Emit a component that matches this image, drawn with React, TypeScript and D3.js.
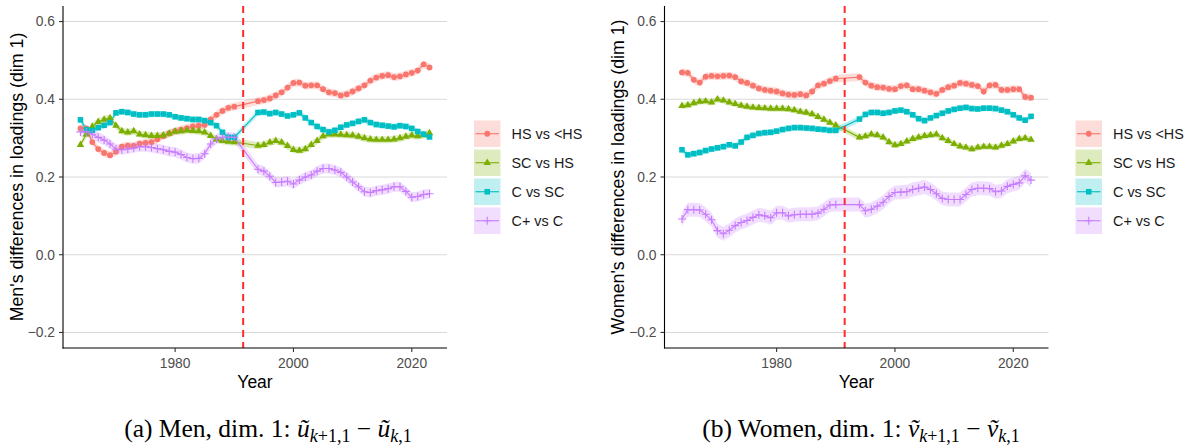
import React from "react";
import * as d3 from "d3";

// survey years (no points for 1991-1993)
const years = [...d3.range(1964, 1991), ...d3.range(1994, 2024)];

const seriesLabels = ["HS vs <HS", "SC vs HS", "C vs SC", "C+ vs C"];
const seriesColors = ["#F8766D", "#7CAE00", "#00BFC4", "#C77CFF"];

const yTicks = [-0.2, 0.0, 0.2, 0.4, 0.6];
const xTicks = [1980, 2000, 2020];
const breakYear = 1991.5;

// men
const menHS = [0.325, 0.325, 0.29, 0.272, 0.262, 0.256, 0.265, 0.278, 0.281, 0.28, 0.286, 0.288, 0.29, 0.297, 0.305, 0.312, 0.318, 0.322, 0.326, 0.33, 0.332, 0.334, 0.348, 0.36, 0.37, 0.378, 0.381,
  0.395, 0.398, 0.402, 0.41, 0.418, 0.43, 0.442, 0.443, 0.435, 0.436, 0.436, 0.426, 0.418, 0.416, 0.41, 0.413, 0.42, 0.428, 0.436, 0.448, 0.456, 0.46, 0.462, 0.457, 0.459, 0.464, 0.468, 0.474, 0.49, 0.482];
const menSC = [0.283, 0.31, 0.33, 0.342, 0.348, 0.352, 0.332, 0.318, 0.315, 0.318, 0.31, 0.308, 0.306, 0.306, 0.307, 0.312, 0.317, 0.318, 0.32, 0.319, 0.318, 0.315, 0.306, 0.297, 0.293, 0.291, 0.29,
  0.281, 0.283, 0.289, 0.293, 0.289, 0.28, 0.27, 0.268, 0.272, 0.283, 0.293, 0.305, 0.31, 0.31, 0.309, 0.308, 0.307, 0.304, 0.3, 0.297, 0.296, 0.296, 0.296, 0.297, 0.3, 0.304, 0.307, 0.305, 0.308, 0.313];
const menC = [0.347, 0.322, 0.32, 0.327, 0.333, 0.34, 0.365, 0.368, 0.366, 0.362, 0.36, 0.36, 0.362, 0.362, 0.362, 0.36, 0.355, 0.352, 0.35, 0.348, 0.348, 0.345, 0.34, 0.332, 0.315, 0.302, 0.302,
  0.366, 0.367, 0.363, 0.366, 0.362, 0.357, 0.36, 0.365, 0.352, 0.34, 0.33, 0.322, 0.316, 0.32, 0.328, 0.334, 0.338, 0.343, 0.347, 0.34, 0.335, 0.333, 0.331, 0.329, 0.332, 0.33, 0.325, 0.317, 0.31, 0.303];
const menCplus = [0.316, 0.316, 0.31, 0.302, 0.295, 0.285, 0.272, 0.27, 0.272, 0.275, 0.278, 0.278, 0.276, 0.273, 0.27, 0.266, 0.264, 0.258, 0.25, 0.247, 0.248, 0.26, 0.285, 0.298, 0.302, 0.303, 0.302,
  0.22, 0.215, 0.202, 0.186, 0.187, 0.189, 0.182, 0.192, 0.2, 0.205, 0.215, 0.222, 0.222, 0.218, 0.212, 0.2, 0.187, 0.175, 0.162, 0.16, 0.165, 0.167, 0.17, 0.175, 0.175, 0.163, 0.148, 0.15, 0.155, 0.157];
const menBand = [0.01, 0.009, 0.008, 0.013];

// women
const womenHS = [0.469, 0.468, 0.45, 0.443, 0.458, 0.46, 0.459, 0.46, 0.461, 0.457, 0.446, 0.442, 0.435, 0.428, 0.424, 0.422, 0.42, 0.415, 0.412, 0.411, 0.413, 0.41, 0.42, 0.436, 0.44, 0.447, 0.453,
  0.457, 0.443, 0.435, 0.431, 0.43, 0.427, 0.426, 0.434, 0.436, 0.426, 0.426, 0.422, 0.418, 0.414, 0.424, 0.431, 0.435, 0.442, 0.44, 0.437, 0.434, 0.42, 0.436, 0.437, 0.424, 0.424, 0.426, 0.426, 0.406, 0.404];
const womenSC = [0.383, 0.385, 0.39, 0.394, 0.395, 0.392, 0.4, 0.397, 0.392, 0.388, 0.384, 0.381, 0.379, 0.378, 0.377, 0.376, 0.376, 0.376, 0.375, 0.372, 0.368, 0.366, 0.362, 0.355, 0.348, 0.34, 0.333,
  0.302, 0.305, 0.31, 0.308, 0.302, 0.29, 0.282, 0.285, 0.292, 0.298, 0.302, 0.306, 0.308, 0.31, 0.3, 0.293, 0.285, 0.279, 0.276, 0.272, 0.276, 0.278, 0.278, 0.276, 0.281, 0.285, 0.292, 0.298, 0.3, 0.296];
const womenC = [0.27, 0.257, 0.26, 0.263, 0.268, 0.272, 0.275, 0.278, 0.283, 0.28, 0.29, 0.302, 0.307, 0.312, 0.314, 0.315, 0.318, 0.322, 0.325, 0.327, 0.327, 0.326, 0.325, 0.323, 0.322, 0.32, 0.32,
  0.349, 0.361, 0.366, 0.366, 0.364, 0.366, 0.37, 0.372, 0.368, 0.36, 0.35, 0.345, 0.352, 0.358, 0.364, 0.37, 0.374, 0.377, 0.379, 0.376, 0.375, 0.377, 0.377, 0.376, 0.372, 0.368, 0.36, 0.352, 0.346, 0.356];
const womenCplus = [0.092, 0.116, 0.116, 0.115, 0.104, 0.09, 0.062, 0.054, 0.063, 0.075, 0.083, 0.088, 0.096, 0.103, 0.1, 0.095, 0.108, 0.108, 0.1, 0.103, 0.104, 0.104, 0.104, 0.107, 0.117, 0.128, 0.129,
  0.129, 0.113, 0.117, 0.125, 0.135, 0.15, 0.16, 0.161, 0.162, 0.168, 0.171, 0.174, 0.168, 0.157, 0.145, 0.142, 0.142, 0.142, 0.155, 0.168, 0.171, 0.171, 0.17, 0.162, 0.164, 0.176, 0.181, 0.185, 0.203, 0.192];
const womenBand = [0.01, 0.008, 0.008, 0.018];

const sans = "'Liberation Sans', Arial, sans-serif";
const serif = "'Liberation Serif', 'Times New Roman', serif";

const Marker = ({ i, color }) => {
  if (i === 3) return <path d="M-4,0H4M0,-4V4" stroke={color} strokeWidth={1.1} fill="none" />;
  const type = [d3.symbolCircle, d3.symbolTriangle, d3.symbolSquare][i];
  const size = [26, 24, 31][i];
  return <path d={d3.symbol(type, size)()} fill={color} />;
};

const Panel = ({ x0, yTitle, data, bands }) => {
  const x = d3.scaleLinear().domain([1961.05, 2025.95]).range([63, 447]);
  const y = d3.scaleLinear().domain([-0.24, 0.64]).range([348, 6]);
  const line = d3.line<number>().x((d, k) => x(years[k])).y((d) => y(d));
  const area = (b: number) =>
    d3.area<number>().x((d, k) => x(years[k])).y0((d) => y(d - b)).y1((d) => y(d + b));

  return (
    <g transform={`translate(${x0},0)`}>
      {yTicks.map((t) => (
        <line key={t} x1={63} x2={447} y1={y(t)} y2={y(t)} stroke="#D9D9D9" strokeWidth={1.1} />
      ))}
      {data.map((s, i) => (
        <path key={"r" + i} d={area(bands[i])(s)} fill={seriesColors[i]} fillOpacity={0.25} />
      ))}
      {data.map((s, i) => (
        <path key={"l" + i} d={line(s)} fill="none" stroke={seriesColors[i]} strokeWidth={1.1} />
      ))}
      {data.map((s, i) => (
        <g key={"p" + i}>
          {s.map((v, k) => (
            <g key={k} transform={`translate(${x(years[k])},${y(v)})`}>
              <Marker i={i} color={seriesColors[i]} />
            </g>
          ))}
        </g>
      ))}
      <line x1={x(breakYear)} x2={x(breakYear)} y1={6} y2={348} stroke="#FF2A2A" strokeWidth={2} strokeDasharray="7,5" />
      {/* axes */}
      <line x1={63} x2={63} y1={6} y2={348.5} stroke="#000" strokeWidth={1.1} />
      <line x1={62.5} x2={447} y1={348} y2={348} stroke="#000" strokeWidth={1.1} />
      {yTicks.map((t) => (
        <g key={t}>
          <line x1={59} x2={63} y1={y(t)} y2={y(t)} stroke="#333" strokeWidth={1.1} />
          <text x={55} y={y(t)} dy="0.35em" textAnchor="end" fontFamily={sans} fontSize={13.8} fill="#4D4D4D">
            {d3.format(".1f")(t)}
          </text>
        </g>
      ))}
      {xTicks.map((t) => (
        <g key={t}>
          <line x1={x(t)} x2={x(t)} y1={348} y2={352} stroke="#333" strokeWidth={1.1} />
          <text x={x(t)} y={367.5} textAnchor="middle" fontFamily={sans} fontSize={13.8} fill="#4D4D4D">
            {t}
          </text>
        </g>
      ))}
      <text x={(63 + 447) / 2} y={388} textAnchor="middle" fontFamily={sans} fontSize={17.5} fill="#000">
        Year
      </text>
      <text transform={`translate(22.5,${(6 + 348) / 2}) rotate(-90)`} textAnchor="middle" fontFamily={sans} fontSize={17.8} fill="#000">
        {yTitle}
      </text>
      {/* legend */}
      {seriesLabels.map((lab, i) => {
        const ky = 120.5 + i * 29;
        return (
          <g key={lab}>
            <rect x={474} y={ky} width={26.5} height={26.5} fill={seriesColors[i]} fillOpacity={0.25} />
            <line x1={475.5} x2={499} y1={ky + 13.25} y2={ky + 13.25} stroke={seriesColors[i]} strokeWidth={1.1} />
            <g transform={`translate(${487.25},${ky + 13.25})`}>
              <Marker i={i} color={seriesColors[i]} />
            </g>
            <text x={511.5} y={ky + 13.25} dy="0.35em" fontFamily={sans} fontSize={14.4} fill="#1A1A1A">
              {lab}
            </text>
          </g>
        );
      })}
    </g>
  );
};

const Caption = ({ cx, prefix, sym }) => (
  <text x={cx} y={437} textAnchor="middle" fontFamily={serif} fontSize={25.5} fill="#000">
    {prefix}
    <tspan fontStyle="italic">{sym}</tspan>
    <tspan dy={5} fontSize={18}>
      <tspan fontStyle="italic">k</tspan>+1,1
    </tspan>
    <tspan dy={-5}> − </tspan>
    <tspan fontStyle="italic">{sym}</tspan>
    <tspan dy={5} fontSize={18}>
      <tspan fontStyle="italic">k</tspan>,1
    </tspan>
  </text>
);

export default function App() {
  return (
    <svg width={1196} height={448} style={{ position: "absolute", left: 0, top: 0, background: "#fff" }}>
      <Panel x0={0} yTitle="Men's differences in loadings (dim 1)" data={[menHS, menSC, menC, menCplus]} bands={menBand} />
      <Panel x0={601.5} yTitle="Women's differences in loadings (dim 1)" data={[womenHS, womenSC, womenC, womenCplus]} bands={womenBand} />
      <Caption cx={268} prefix="(a) Men, dim. 1: " sym="ũ" />
      <Caption cx={861} prefix="(b) Women, dim. 1: " sym="ṽ" />
    </svg>
  );
}
